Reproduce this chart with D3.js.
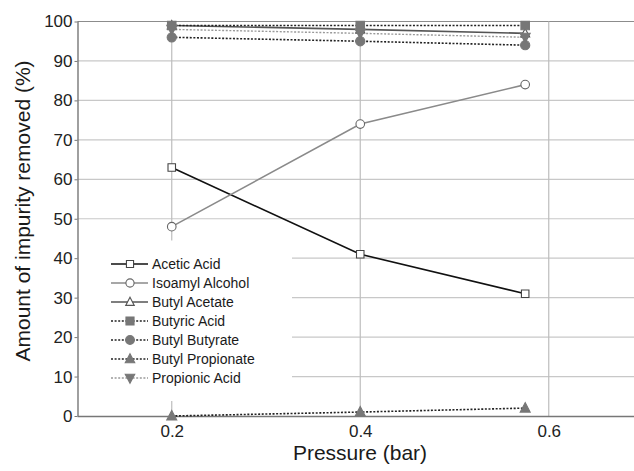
<!DOCTYPE html>
<html>
<head>
<meta charset="utf-8">
<script src="https://cdn.jsdelivr.net/npm/d3@7"></script>
<style>
  html, body { margin: 0; padding: 0; background: #fff; }
  svg { display: block; font-family: "Liberation Sans", Arial, sans-serif; }
</style>
</head>
<body>
<svg id="chart" width="634" height="471"></svg>
<script>
// Pressure settings (bar)
const pressures = [0.2, 0.4, 0.575];

// Impurity removal (%) per compound
const aceticAcid      = [63, 41, 31];
const isoamylAlcohol  = [48, 74, 84];
const butylAcetate    = [99, 98, 97];
const butyricAcid     = [99, 99, 99];
const butylButyrate   = [96, 95, 94];
const butylPropionate = [0, 1, 2];
const propionicAcid   = [98, 97, 96];

const seriesNames = ["Acetic Acid", "Isoamyl Alcohol", "Butyl Acetate", "Butyric Acid",
                     "Butyl Butyrate", "Butyl Propionate", "Propionic Acid"];
const seriesValues = [aceticAcid, isoamylAlcohol, butylAcetate, butyricAcid,
                      butylButyrate, butylPropionate, propionicAcid];

const xTicks = [0.2, 0.4, 0.6];
const yTicks = [0, 10, 20, 30, 40, 50, 60, 70, 80, 90, 100];

// Visual style per series
const styles = [
  { line: "#111", dash: null, width: 1.6, shape: "square",   fill: "#fff", stroke: "#444", size: 7.5 },
  { line: "#8a8a8a", dash: null, width: 1.6, shape: "circle", fill: "#fff", stroke: "#666", size: 4.3 },
  { line: "#555", dash: null, width: 1.6, shape: "triangle", fill: "#fff", stroke: "#555", size: 9 },
  { line: "#222", dash: "2,1.6", width: 1.6, shape: "square",   fill: "#777", stroke: "#777", size: 8.5 },
  { line: "#222", dash: "2,1.6", width: 1.6, shape: "circle",   fill: "#777", stroke: "#777", size: 4.6 },
  { line: "#222", dash: "2,1.6", width: 1.6, shape: "triangle", fill: "#777", stroke: "#777", size: 10 },
  { line: "#999", dash: "2,1.6", width: 1.4, shape: "tridown",  fill: "#777", stroke: "#777", size: 10 }
];

const svg = d3.select("#chart");
const plotLeft = 77.5, plotTop = 21.5, plotBottom = 416;
const x = d3.scaleLinear().domain([0.1, 0.7]).range([plotLeft, 643]);
const y = d3.scaleLinear().domain([0, 100]).range([plotBottom, plotTop]);

// Gridlines
const grid = svg.append("g");
grid.selectAll("line.h").data(yTicks.filter(d => d > 0)).join("line")
  .attr("x1", plotLeft).attr("x2", 634)
  .attr("y1", d => y(d)).attr("y2", d => y(d))
  .attr("stroke", d => d === 100 ? "#8c8c8c" : "#c8c8c8").attr("stroke-width", 1.2);
grid.selectAll("line.v").data(xTicks).join("line")
  .attr("x1", d => x(d)).attr("x2", d => x(d))
  .attr("y1", plotTop).attr("y2", plotBottom)
  .attr("stroke", "#bdbdbd").attr("stroke-width", 1.2);

// Legend background masks the gridlines behind it
svg.append("rect").attr("x", plotLeft + 1).attr("y", 240.5)
  .attr("width", 292 - plotLeft - 1).attr("height", 160.5).attr("fill", "#fff");

// Axes
const yAxis = svg.append("g").attr("transform", `translate(${plotLeft},0)`)
  .call(d3.axisLeft(y).tickValues(yTicks).tickSize(3).tickPadding(2));
const xAxis = svg.append("g").attr("transform", `translate(0,${plotBottom})`)
  .call(d3.axisBottom(x).tickValues(xTicks).tickSize(0).tickPadding(9).tickFormat(d3.format(".1f")));
[yAxis, xAxis].forEach(a => {
  a.select(".domain").attr("stroke", "#777").attr("stroke-width", 1.4);
  a.selectAll(".tick line").attr("stroke", "#777");
  a.selectAll(".tick text").attr("fill", "#222").style("font-size", "17px")
    .style("font-family", "'Liberation Sans', Arial, sans-serif");
});
xAxis.select(".domain").attr("d", `M${plotLeft},0.5H634`);
yAxis.select(".domain").attr("d", `M0.5,${plotTop}V${plotBottom}`);

// Axis titles
svg.append("text").attr("x", 360).attr("y", 460).attr("text-anchor", "middle")
  .attr("fill", "#1a1a1a").style("font-size", "21px").text("Pressure (bar)");
svg.append("text").attr("transform", "translate(30,211) rotate(-90)").attr("text-anchor", "middle")
  .attr("fill", "#1a1a1a").style("font-size", "21px").text("Amount of impurity removed (%)");

function markerPath(shape, s) {
  if (shape === "square") return `M${-s/2},${-s/2}h${s}v${s}h${-s}Z`;
  if (shape === "triangle") return `M0,${-s*0.55}L${s/2},${s*0.4}L${-s/2},${s*0.4}Z`;
  if (shape === "tridown") return `M0,${s*0.55}L${s/2},${-s*0.4}L${-s/2},${-s*0.4}Z`;
  return null;
}
function drawMarker(g, st, cx, cy) {
  if (st.shape === "circle") {
    g.append("circle").attr("cx", cx).attr("cy", cy).attr("r", st.size)
      .attr("fill", st.fill).attr("stroke", st.stroke).attr("stroke-width", 1.1);
  } else {
    g.append("path").attr("d", markerPath(st.shape, st.size))
      .attr("transform", `translate(${cx},${cy})`)
      .attr("fill", st.fill).attr("stroke", st.stroke).attr("stroke-width", 1.1);
  }
}

// Series lines and markers
const line = d3.line().x(d => x(d[0])).y(d => y(d[1]));
const plot = svg.append("g");
seriesValues.forEach((vals, i) => {
  const st = styles[i];
  const pts = pressures.map((p, j) => [p, vals[j]]);
  plot.append("path").attr("d", line(pts)).attr("fill", "none")
    .attr("stroke", st.line).attr("stroke-width", st.width)
    .attr("stroke-dasharray", st.dash);
});
seriesValues.forEach((vals, i) => {
  const st = styles[i];
  const g = plot.append("g");
  pressures.forEach((p, j) => drawMarker(g, st, x(p), y(vals[j])));
});

// Legend
const legend = svg.append("g");
seriesNames.forEach((name, i) => {
  const st = styles[i];
  const cy = 264 + i * 19;
  const g = legend.append("g");
  g.append("line").attr("x1", 111).attr("x2", 148).attr("y1", cy).attr("y2", cy)
    .attr("stroke", st.line).attr("stroke-width", st.width).attr("stroke-dasharray", st.dash);
  drawMarker(g, Object.assign({}, st, { size: st.size * 0.95 }), 130, cy);
  g.append("text").attr("x", 152).attr("y", cy + 5).attr("fill", "#1a1a1a")
    .style("font-size", "14px").text(name);
});
</script>
</body>
</html>
